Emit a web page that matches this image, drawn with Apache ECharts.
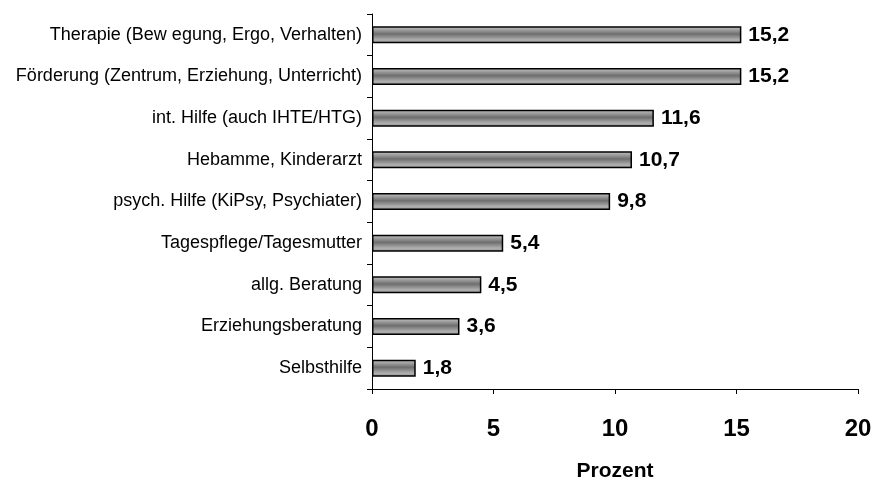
<!DOCTYPE html>
<html>
<head>
<meta charset="utf-8">
<script src="https://cdn.jsdelivr.net/npm/echarts@6/dist/echarts.min.js"></script>
<style>
  html, body { margin: 0; padding: 0; background: #fff; }
  #main { width: 874px; height: 477px; }
</style>
</head>
<body>
<div id="main"></div>
<script>
// categories top to bottom
const categories = [
  'Therapie (Bew egung, Ergo, Verhalten)',
  'Förderung (Zentrum, Erziehung, Unterricht)',
  'int. Hilfe (auch IHTE/HTG)',
  'Hebamme, Kinderarzt',
  'psych. Hilfe (KiPsy, Psychiater)',
  'Tagespflege/Tagesmutter',
  'allg. Beratung',
  'Erziehungsberatung',
  'Selbsthilfe'
]
const values = [15.2, 15.2, 11.6, 10.7, 9.8, 5.4, 4.5, 3.6, 1.8]
const xTicks = [0, 5, 10, 15, 20]

const font = 'Arial, "Liberation Sans", sans-serif'

const barColor = new echarts.graphic.LinearGradient(0, 0, 0, 1, [
  {offset: 0, color: '#c8c8c8'},
  {offset: 0.45, color: '#6e6e6e'},
  {offset: 0.8, color: '#b0b0b0'},
  {offset: 1, color: '#909090'}
])

const chart = echarts.init(document.getElementById('main'))
chart.setOption({
  animation: false,
  grid: {left: 372, top: 14, right: 16, bottom: 88, containLabel: false, outerBoundsMode: 'none'},
  xAxis: {
    type: 'value',
    min: xTicks[0],
    max: xTicks[xTicks.length - 1],
    interval: 5,
    name: 'Prozent',
    nameLocation: 'middle',
    nameGap: 72,
    nameTextStyle: {fontFamily: font, fontWeight: 'bold', fontSize: 21, color: '#000'},
    axisLine: {show: true, lineStyle: {color: '#000', width: 1}},
    axisTick: {show: true, length: 5, lineStyle: {color: '#000'}},
    axisLabel: {fontFamily: font, fontWeight: 'bold', fontSize: 24, color: '#000', margin: 28},
    splitLine: {show: false}
  },
  yAxis: {
    type: 'category',
    inverse: true,
    data: categories,
    axisLine: {show: true, lineStyle: {color: '#000', width: 1}},
    axisTick: {show: true, length: 5, alignWithLabel: false, lineStyle: {color: '#000'}},
    axisLabel: {fontFamily: font, fontSize: 18, color: '#000', margin: 10}
  },
  series: [{
    type: 'bar',
    data: values,
    barWidth: 17,
    itemStyle: {color: barColor, borderColor: '#000', borderWidth: 1.5},
    label: {
      show: true,
      position: 'right',
      distance: 7,
      fontFamily: font,
      fontWeight: 'bold',
      fontSize: 21,
      color: '#000',
      formatter: p => p.value.toFixed(1).replace('.', ',')
    }
  }]
})
</script>
</body>
</html>
